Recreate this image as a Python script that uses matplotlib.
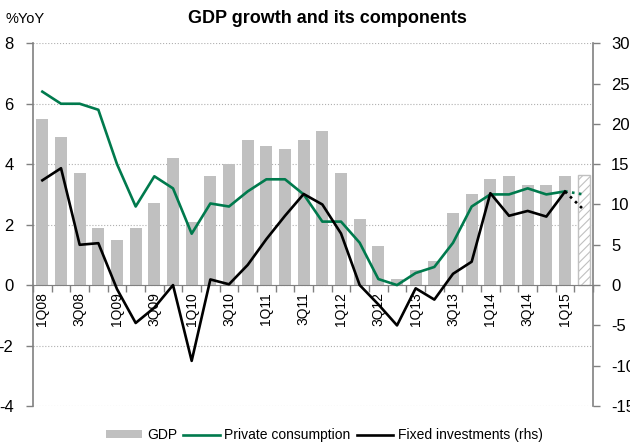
import numpy as np
import matplotlib
matplotlib.use("Agg")
import matplotlib.pyplot as plt
from matplotlib.patches import Patch
from matplotlib.lines import Line2D

plt.rcParams['font.family'] = ['Liberation Sans', 'DejaVu Sans']
plt.rcParams['hatch.linewidth'] = 0.8
plt.rcParams['axes.unicode_minus'] = False

# --- data (last quarter is an estimate, drawn hatched / dotted) ---
quarters = [f"{q}Q{y:02d}" for y in range(8, 16) for q in range(1, 5)][:30]
gdp = [5.5, 4.9, 3.7, 1.9, 1.5, 1.9, 2.7, 4.2, 2.1, 3.6, 4.0, 4.8, 4.6, 4.5, 4.8,
       5.1, 3.7, 2.2, 1.3, 0.2, 0.5, 0.8, 2.4, 3.0, 3.5, 3.6, 3.3, 3.3, 3.6, 3.65]
consumption = [6.4, 6.0, 6.0, 5.8, 4.0, 2.6, 3.6, 3.2, 1.7, 2.7, 2.6, 3.1, 3.5, 3.5, 3.0,
               2.1, 2.1, 1.4, 0.2, 0.0, 0.4, 0.6, 1.4, 2.6, 3.0, 3.0, 3.2, 3.0, 3.1, 3.0]
investment = [13.0, 14.5, 5.0, 5.2, -0.5, -4.7, -2.8, 0.0, -9.4, 0.7, 0.1, 2.5, 5.7, 8.6, 11.3,
              10.0, 6.4, 0.0, -2.4, -5.0, -0.4, -1.8, 1.4, 2.9, 11.4, 8.6, 9.2, 8.5, 11.6, 9.35]

GREY = '#C0C0C0'
GREEN = '#007A4D'
AXCOL = '#808080'

x = np.arange(len(quarters))
n_act = len(quarters) - 1

fig = plt.figure(figsize=(6.3, 4.44), dpi=100)
ax = fig.add_axes([0.0524, 0.0856, 0.8889, 0.8169])
ax2 = ax.twinx()

ax.bar(x[:n_act], gdp[:n_act], width=0.63, color=GREY, zorder=2)
ax.bar(x[n_act:], gdp[n_act:], width=0.63, facecolor='white', edgecolor=GREY,
       hatch='////', lw=1.0, zorder=2)

ax.plot(x[:n_act], consumption[:n_act], color=GREEN, lw=1.9, zorder=3)
ax.plot(x[n_act - 1:], consumption[n_act - 1:], color=GREEN, lw=1.9, ls=':', zorder=3)
ax2.plot(x[:n_act], investment[:n_act], color='black', lw=1.9, zorder=3)
ax2.plot(x[n_act - 1:], investment[n_act - 1:], color='black', lw=1.9, ls=':', zorder=3)

ax.set_xlim(-0.5, len(quarters) - 0.5)
ax.set_ylim(-4, 8)
ax2.set_ylim(-15, 30)
ax.set_yticks(np.arange(-4, 9, 2))
ax2.set_yticks(np.arange(-15, 31, 5))

ax.set_xticks(x[::2])
ax.set_xticklabels(quarters[::2], fontsize=10.5)
ax.set_xticks(np.arange(-0.5, len(quarters), 1), minor=True)
ax.tick_params(axis='x', which='major', length=0, pad=5, labelrotation=90)
ax.tick_params(axis='x', which='minor', length=5, color=AXCOL, width=1)

ax.tick_params(axis='y', labelsize=12, length=5, color=AXCOL, width=1, pad=9)
ax2.tick_params(axis='y', labelsize=12, length=5, color=AXCOL, width=1, pad=8)

ax.yaxis.grid(True, ls=':', color='#b0b0b0', lw=0.8)
ax.set_axisbelow(True)

for s in ['top', 'right']:
    ax.spines[s].set_visible(False)
ax.spines['left'].set_color(AXCOL)
ax.spines['bottom'].set_position(('data', 0))
ax.spines['bottom'].set_color(AXCOL)
for s in ['top', 'bottom', 'left']:
    ax2.spines[s].set_visible(False)
ax2.spines['right'].set_color(AXCOL)
ax.spines['left'].set_linewidth(1.2)
ax2.spines['right'].set_linewidth(1.2)

fig.text(0.52, 0.958, "GDP growth and its components", ha='center', va='center',
         fontsize=13, fontweight='bold')
fig.text(0.008, 0.958, "%YoY", ha='left', va='center', fontsize=10.5)

handles = [Patch(facecolor=GREY, edgecolor='none'),
           Line2D([], [], color=GREEN, lw=1.9),
           Line2D([], [], color='black', lw=1.9)]
labels = ["GDP", "Private consumption", "Fixed investments (rhs)"]
fig.legend(handles, labels, loc='center', bbox_to_anchor=(0.515, 0.02), ncol=3,
           frameon=False, fontsize=10, handlelength=2.6, handleheight=0.55,
           handletextpad=0.35, columnspacing=0.45, borderaxespad=0)

fig.savefig("out.png", dpi=100)
